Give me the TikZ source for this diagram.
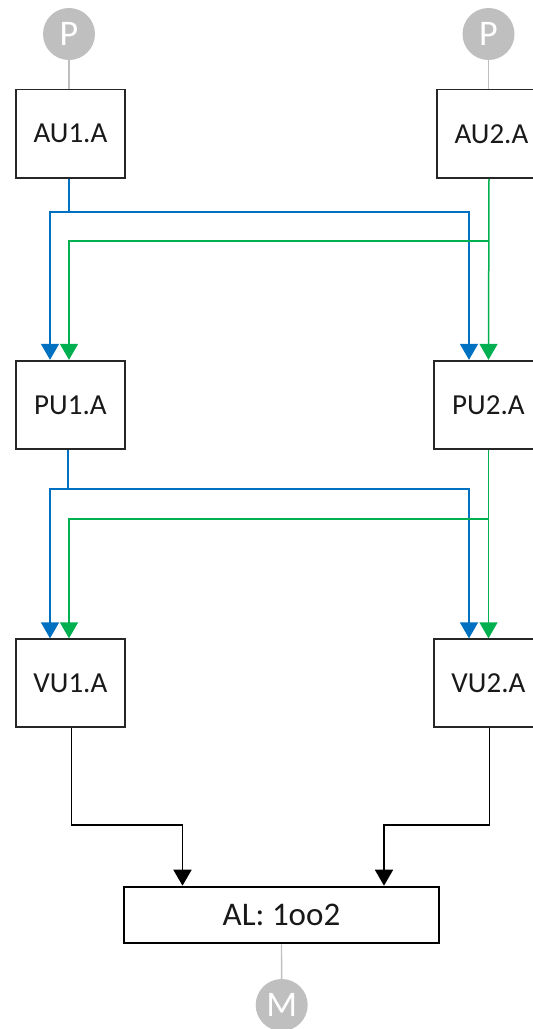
\documentclass[tikz,border=0pt]{standalone}
\usepackage{fontspec}
\setmainfont{Carlito}
\usetikzlibrary{arrows.meta}
\definecolor{sigblue}{HTML}{0070C0}
\definecolor{siggreen}{HTML}{00B050}
\definecolor{portgrey}{HTML}{BFBFBF}
\definecolor{boxline}{HTML}{262626}
\begin{document}
\begin{tikzpicture}[x=1pt,y=-1pt,
  unit/.style={draw=boxline,line width=1.8pt,minimum width=109pt,minimum height=88.5pt,
    inner sep=0pt,font=\fontsize{29}{31}\selectfont,text=black!90},
  logic/.style={draw=black,line width=2.6pt,minimum width=315pt,minimum height=56pt,
    inner sep=0pt,font=\fontsize{33}{35}\selectfont,text=black!90},
  port/.style={circle,fill=portgrey,minimum size=52pt,inner sep=0pt,
    text=white,font=\fontsize{36}{38}\selectfont},
  tie/.style={draw=portgrey,line width=1.4pt},
  tip/.style={-{Triangle[width=18pt,length=16pt]}},
  bl/.style={draw=sigblue,line width=1.5pt},
  gr/.style={draw=siggreen,line width=1.5pt},
  bk/.style={draw=black,line width=1.8pt}]
\useasboundingbox (0,0) rectangle (533,1029);

% processing units, two channels
\node[unit] (AU1) at (70.5,133.75) {AU1.A};
\node[unit] (AU2) at (491.5,133.75) {AU2.A};
\node[unit] (PU1) at (70.5,405) {PU1.A};
\node[unit] (PU2) at (488.5,405) {PU2.A};
\node[unit,minimum height=87.5pt] (VU1) at (70.5,683) {VU1.A};
\node[unit,minimum height=87.5pt] (VU2) at (488.5,683) {VU2.A};
\node[logic] (AL) at (281.5,915) {AL: 1oo2};

% inputs and output
\node[port] (P1) at (69,34) {P};
\node[port] (P2) at (488.5,34) {P};
\node[port] (M) at (281.7,1005) {M};
\draw[tie] (P1) -- (P1 |- AU1.north);
\draw[tie] (P2) -- (P2 |- AU2.north);
\draw[tie] (AL.south) -- (M);

% AU -> PU cross links
\draw[bl] ([xshift=-1.5pt]AU1.south) -- ++(0,33) coordinate (ab);
\draw[bl,tip] (ab) -| ([xshift=-20.5pt]PU1.north);
\draw[bl,tip] (ab) -| ([xshift=-19.5pt]PU2.north);
\draw[gr,tip] ([xshift=-2.5pt]AU2.south) -- ([xshift=0pt]PU2.north);
\coordinate (ag) at ([xshift=-2.5pt,yshift=-62pt]AU2.south);
\draw[gr,tip] (ag) -| ([xshift=-1.5pt]PU1.north);

% PU -> VU cross links
\draw[bl] ([xshift=-2.5pt]PU1.south) -- ++(0,39) coordinate (pb);
\draw[bl,tip] (pb) -| ([xshift=-20.5pt]VU1.north);
\draw[bl,tip] (pb) -| ([xshift=-19.5pt]VU2.north);
\draw[gr,tip] (PU2.south) -- (VU2.north);
\coordinate (pg) at ([yshift=-69pt]PU2.south);
\draw[gr,tip] (pg) -| ([xshift=-1.5pt]VU1.north);

% VU -> voting logic
\draw[bk,tip] ([xshift=1pt]VU1.south) -- ++(0,97.5) -| ([xshift=-99pt]AL.north);
\draw[bk,tip] ([xshift=1pt]VU2.south) -- ++(0,97.5) -| ([xshift=102.5pt]AL.north);
\end{tikzpicture}
\end{document}
